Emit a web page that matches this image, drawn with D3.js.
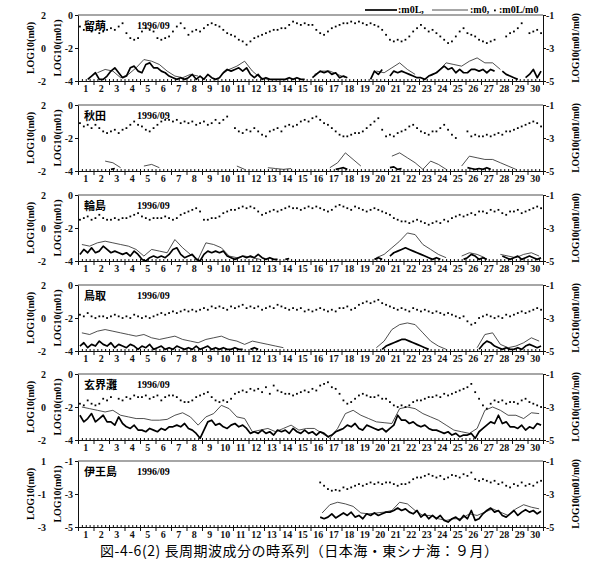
<!DOCTYPE html>
<head>
  <meta charset="utf-8">
  <script src="https://d3js.org/d3.v7.min.js"></script>
  <style>
    body { margin: 0; background: #fff; }
    svg { font-family: "Liberation Serif", serif; font-weight: bold; }
    .axis text { font-family: "Liberation Serif", serif; font-weight: bold; font-size: 10px; fill: #111; }
    .axis path, .axis line { stroke: #111; }
    .jp { font-family: "Noto Sans CJK JP", sans-serif; }
  </style>
</head>
<body>
  <svg width="600" height="573"></svg>

  <script>
    var days = d3.range(1, 31);
    var stations = ['留萌', '秋田', '輪島', '鳥取', '玄界灘', '伊王島'];
    var month = '1996/09';

    // thick line m0L, 4 values a day (inner left scale)
    var rumoiM0L = [
      -3.7,null,-3.9,-3.7, -3.5,-3.9,-3.9,-3.7,
      -3.4,-3.2,-3.5,-3.8, -3.7,-3.2,-3.1,-3.4,
      -3.5,-3.0,-2.9,-3.2, -3.2,-3.4,-3.5,-3.7,
      -3.8,-3.9,-3.8,-3.9, -3.8,-3.6,-3.9,-3.7,
      -3.9,-3.6,-3.8,-3.9, -3.8,-3.5,-3.3,-3.4,
      -3.3,-3.2,-3.4,-3.2, -3.6,-3.8,-3.6,-3.9,
      -3.8,-3.9,-3.9,-3.9, -3.9,-3.9,-3.8,-3.9,
      -3.8,-3.9,-3.9,null, -3.8,-3.6,-3.4,-3.5,
      -3.4,-3.6,-3.5,-3.8, -3.7,-3.8,null,null,
      null,null,null,-3.9, -3.4,-3.6,-3.3,null,
      -3.7,-3.4,-3.5,-3.4, -3.5,-3.6,-3.7,-3.8,
      -3.8,-3.9,-3.7,-3.6, -3.5,-3.3,-3.1,-3.3,
      -3.2,-3.5,-3.3,-3.5, -3.5,-3.3,-3.3,-3.4,
      -3.3,-3.5,-3.3,-3.4, null,-3.4,-3.6,-3.7,
      -3.8,-3.9,null,-3.8, -3.6,-3.3,-3.8,-3.4
    ];
    // thin line m0, 2 values a day
    var rumoiM0 = [
      null,null, -3.5,-3.3, -3.4,-3.8, -3.6,-3.2, -2.7,-2.8,
      -3.0,-3.4, -3.7,-3.8, -3.6,-3.7, null,null, -3.6,-3.3,
      -3.1,-2.8, -3.4,-3.8, -3.9,null, null,null, null,null,
      -3.6,-3.4, -3.4,-3.6, -3.8,null, null,null, -3.4,-3.5,
      -3.2,-2.9, -3.3,-3.6, null,-3.7, -3.4,-2.9, -3.0,-3.1,
      -2.8,-2.6, -2.9,-2.9, -3.3,null, null,null, null,null
    ];
    // dots m0L/m0, 4 values a day (right scale)
    var rumoiRatio = [
      -1.7,-1.9,-1.8,-2.0, -1.9,-2.1,-2.0,-1.9,
      -1.8,-1.9,-1.7,-1.5, -2.1,-2.4,-2.5,-2.4,
      -2.0,-1.8,-1.9,-2.0, -2.4,-2.5,-2.4,-2.3,
      -2.0,-1.7,-1.5,-1.8, -2.2,-2.0,-1.9,-2.0,
      -1.8,-1.6,-1.5,-1.6, -1.7,-1.9,-2.1,-2.2,
      -2.3,-2.5,-2.6,-2.8, -2.6,-2.4,-2.3,-2.2,
      -2.1,-2.0,-1.9,-1.9, -1.8,-1.8,-1.6,-1.4,
      -1.5,-1.6,-1.5,-1.6, -1.6,-1.9,-2.1,-2.2,
      -2.0,-1.8,-1.7,-1.6, -1.5,-1.5,-1.4,-1.5,
      -1.4,-1.5,-1.6,-1.5, -1.6,-1.7,-1.9,-2.2,
      -2.5,-2.6,-2.5,-2.6, -2.5,-2.3,-2.0,-1.8,
      -1.6,-1.8,-2.0,-1.9, -2.1,-2.3,-2.5,-2.7,
      -2.6,-2.3,-2.0,-1.8, -2.1,-2.2,-2.3,-2.5,
      -2.6,-2.7,-2.6,-2.5, null,null,-2.3,-2.1,
      -2.0,-1.8,-1.5,null, -2.1,-2.0,-1.9,-2.1
    ];

    var akitaM0L = [
      null,null,null,null, null,null,null,null,
      -3.9,-3.85,null,null, null,null,null,null,
      null,null,null,null, null,null,null,null,
      null,null,null,null, null,null,null,null,
      null,null,null,null, null,null,null,null,
      null,null,null,null, null,null,null,null,
      null,null,null,null, null,null,null,null,
      null,null,null,null, null,null,null,null,
      null,null,-3.9,-3.85, -3.8,-3.9,null,null,
      null,null,null,null, null,null,null,null,
      -3.8,-3.75,-3.9,-3.85, null,null,null,null,
      null,null,null,null, null,null,null,null,
      null,null,null,null, -3.8,-3.85,-3.9,-3.85,
      -3.9,-3.8,-3.9,null, null,null,null,null,
      null,null,null,null, null,null,null,null
    ];
    var akitaM0 = [
      null,null, null,-3.4, -3.5,-3.8, null,null, -3.7,-3.6,
      -3.8,null, null,null, null,null, null,null, null,null,
      -3.7,-3.9, null,null, -3.8,-3.85, -3.9,-3.85, null,null,
      null,null, -3.8,-3.5, -2.9,-3.3, -3.7,null, null,null,
      -3.1,-2.9, -3.2,-3.5, -3.9,-3.4, -3.6,-3.9, null,-3.7,
      -3.1,-3.2, -3.3,-3.3, -3.5,-3.7, -3.9,null, null,null
    ];
    var akitaRatio = [
      -2.1,-2.3,-2.2,-2.4, -2.2,-2.4,-2.6,-2.7,
      -2.6,-2.5,-2.7,-2.5, -2.4,-2.2,-2.0,-2.2,
      -2.3,-2.5,-2.6,-2.4, -2.2,-2.0,-1.9,-1.9,
      -2.0,-1.9,-2.1,-2.0, -2.1,-2.0,-2.2,-2.1,
      -2.0,-2.2,-2.1,-1.9, -2.1,-1.9,-1.7,null,
      -2.4,-2.6,-2.7,-2.5, -2.6,-2.4,-2.6,-2.8,
      -2.9,-2.6,-2.5,-2.4, -2.6,-2.3,-2.2,-2.3,
      -2.2,-2.0,-1.9,-2.0, -1.8,-1.7,-1.9,-2.1,
      -2.2,-2.4,-2.6,-2.8, -2.9,-2.9,-2.8,-2.7,
      -2.7,-2.6,-2.4,-2.2, -2.0,-1.8,-2.5,-2.9,
      -2.8,-2.9,-2.7,-2.6, -2.5,-2.3,-2.2,-2.4,
      -2.6,-2.7,-2.8,-2.6, -2.6,-2.4,-2.2,-2.5,
      -2.8,-3.0,null,null, -2.6,-2.9,-2.8,-2.9,
      -2.9,-2.8,-2.9,-2.8, -2.7,-2.8,-2.6,-2.6,
      -2.5,-2.4,-2.3,-2.2, -2.1,-2.0,-2.1,-2.3
    ];

    var wajimaM0L = [
      -3.6,-3.3,-3.5,-3.2, -3.5,-3.4,-3.1,-3.3,
      -3.5,-3.4,-3.5,-3.6, -3.5,-3.7,-3.4,-3.6,
      -3.9,-4.0,-3.8,-3.7, -3.8,-3.7,-3.8,-3.6,
      -3.3,-3.2,-3.6,-3.8, -3.7,-3.6,-3.9,-4.0,
      -3.6,-3.4,-3.5,-3.4, -3.5,-3.4,-3.7,-3.8,
      -3.9,-3.8,-3.7,-3.8, -3.7,-3.8,-3.6,-3.8,
      -3.9,-3.8,-3.9,-3.9, null,-3.9,-3.85,null,
      null,null,null,null, null,null,null,null,
      null,null,null,null, null,null,null,null,
      null,null,null,null, -3.9,-3.8,-3.9,null,
      -3.7,-3.5,-3.4,-3.3, -3.2,-3.3,-3.4,-3.5,
      -3.6,-3.7,-3.8,-3.9, -3.8,-3.9,null,null,
      null,null,null,-3.9, -3.8,-3.6,-3.7,-3.9,
      -3.8,-3.9,null,null, null,-3.7,-3.8,-3.9,
      -3.8,-3.7,-3.9,-3.8, -3.7,-3.8,-3.9,-3.8
    ];
    var wajimaM0 = [
      -3.0,-3.1, -2.9,-2.8, -2.9,-3.0, -3.1,-3.3, -3.7,-3.3,
      -3.4,-3.5, -2.7,-3.2, -3.6,-3.9, -2.9,-3.0, -3.2,-3.7,
      -3.8,-3.7, -3.8,-3.9, null,null, null,-3.9, null,null,
      null,null, null,null, null,null, null,null, -3.8,-3.6,
      -3.2,-2.8, -2.3,-2.4, -3.0,-3.3, -3.6,-3.8, null,-3.7,
      -3.5,-3.6, -3.8,null, -3.6,-3.7, -3.8,-3.6, -3.5,-3.7
    ];
    var wajimaRatio = [
      -2.5,-2.4,-2.3,-2.5, -2.4,-2.2,-2.4,-2.5,
      -2.5,-2.4,-2.5,-2.4, -2.4,-2.3,-2.2,-2.1,
      -2.3,-2.4,-2.5,-2.4, -2.4,-2.4,-2.3,-2.4,
      -2.5,-2.4,-2.2,-2.1, -2.0,-1.9,-1.8,-2.0,
      -2.5,-2.5,-2.4,-2.4, -2.3,-2.1,-2.0,-1.9,
      -1.9,-1.8,-1.7,-1.8, -1.7,-1.8,-2.0,-2.2,
      -2.1,-2.0,-1.9,-2.0, -1.9,-1.8,-1.7,-1.8,
      -1.8,-1.9,-1.8,-1.7, -1.8,-1.7,-1.8,-1.9,
      -2.0,-1.9,-1.7,-1.6, -1.7,-1.8,-1.9,-1.7,
      -1.8,-1.9,-2.0,-1.9, -1.8,-1.9,-2.0,-2.1,
      -2.2,-2.4,-2.5,-2.6, -2.6,-2.7,-2.6,-2.5,
      -2.6,-2.7,-2.8,-2.7, -2.6,-2.7,-2.5,-2.6,
      -2.4,-2.3,-2.2,-2.3, -2.2,-2.1,-2.2,-2.0,
      -2.0,-2.1,-1.9,-2.0, -1.9,-2.1,-2.2,-2.0,
      -2.0,-1.9,-2.1,-2.0, -1.9,-1.8,-1.7,-1.8
    ];

    var tottoriM0L = [
      -3.7,-3.5,-3.8,-3.6, -3.7,-3.4,-3.6,-3.7,
      -3.5,-3.8,-3.6,-3.7, -3.8,-3.6,-3.7,-3.9,
      -3.7,-3.8,-3.6,-3.9, -3.8,-3.7,-3.9,-3.8,
      -3.9,-3.7,-3.8,-3.9, -3.8,-3.9,-3.7,-3.9,
      -3.8,-3.7,-3.9,-3.8, -3.9,-3.8,-3.9,-3.9,
      -3.8,-3.9,-3.9,null, -3.9,-3.8,-3.9,null,
      null,-3.9,null,null, null,null,null,null,
      null,null,null,null, null,null,null,null,
      null,null,null,null, null,null,null,null,
      null,null,null,null, null,null,-3.9,-3.7,
      -3.6,-3.5,-3.4,-3.3, -3.3,-3.4,-3.5,-3.6,
      -3.7,-3.8,-3.9,null, null,null,null,null,
      null,null,null,null, null,null,null,-3.9,
      -3.6,-3.4,-3.5,-3.7, -3.8,-3.9,-3.8,-3.9,
      -3.9,-3.8,-3.9,-3.7, -3.6,-3.7,-3.8,-3.7
    ];
    var tottoriM0 = [
      -2.9,-3.0, -2.8,-2.7, -2.8,-2.9, -3.0,-3.1, -3.0,-3.2,
      -3.3,-3.2, -3.1,-3.3, -3.4,-3.5, -3.3,-3.2, -3.1,-3.3,
      -3.4,-3.6, -3.4,-3.5, -3.6,-3.7, -3.8,null, null,null,
      null,null, null,null, null,null, null,null, -3.8,-3.4,
      -2.7,-2.4, -2.3,-2.4, -2.9,-3.4, -3.7,-3.9, null,null,
      null,-3.8, -3.0,-2.9, -3.6,-3.8, -3.7,-3.5, -3.2,-3.4
    ];
    var tottoriRatio = [
      -2.8,-2.9,-2.7,-2.9, -3.0,-2.9,-2.9,-3.0,
      -2.9,-2.8,-2.9,-3.0, -2.9,-3.0,-2.8,-2.9,
      -3.0,-2.9,-3.0,-2.9, -2.8,-2.7,-2.8,-2.7,
      -2.6,-2.7,-2.6,-2.5, -2.6,-2.5,-2.6,-2.5,
      -2.4,-2.5,-2.3,-2.4, -2.3,-2.4,-2.5,-2.3,
      -2.4,-2.3,-2.2,-2.4, -2.3,-2.4,-2.3,-2.5,
      -2.4,-2.3,-2.4,-2.2, -2.3,-2.4,-2.5,-2.4,
      -2.5,-2.4,-2.6,-2.5, -2.6,-2.5,-2.4,-2.5,
      -2.6,-2.5,-2.6,-2.4, -2.4,-2.3,-2.5,-2.4,
      -2.2,-2.1,-2.0,-2.1, -2.0,-1.9,-2.1,-2.2,
      -2.3,-2.4,-2.5,-2.4, -2.5,-2.6,-2.4,-2.5,
      -2.6,-2.5,-2.6,-2.7, -2.6,-2.7,-2.8,-2.7,
      -2.8,-2.9,-3.0,-2.9, -3.2,-3.4,-3.3,-3.0,
      -2.9,-2.8,-2.9,-3.0, -2.9,-3.0,-2.8,-2.9,
      -2.8,-2.7,-2.6,-2.7, -2.6,-2.5,-2.4,-2.5
    ];

    var genkaiM0L = [
      -2.5,-2.9,-2.7,-2.4, -2.9,-2.7,-2.5,-2.9,
      -2.9,-3.1,-2.6,-3.0, -3.2,-3.3,-3.1,-3.4,
      -3.4,-3.5,-3.3,-3.4, -3.5,-3.3,-3.4,-3.2,
      -3.2,-3.1,-3.2,-3.0, -3.3,-3.4,-3.6,-3.9,
      -3.4,-2.9,-2.8,-3.1, -3.0,-3.2,-3.3,-3.1,
      -3.0,-3.2,-3.1,-3.3, -3.6,-3.5,-3.6,-3.4,
      -3.6,-3.5,-3.7,-3.4, -3.5,-3.4,-3.6,-3.3,
      -3.5,-3.6,-3.4,-3.6, -3.5,-3.7,-3.5,-3.6,
      -3.8,-3.7,-3.5,-3.4, -3.3,-3.1,-3.2,-3.0,
      -3.3,-3.4,-3.1,-3.2, -3.3,-3.4,-3.3,-3.5,
      -3.3,-3.1,-2.5,-2.8, -2.8,-3.0,-2.9,-3.1,
      -3.2,-3.1,-3.3,-3.4, -3.4,-3.5,-3.6,-3.5,
      -3.7,-3.6,-3.8,-3.7, -3.7,-3.6,-3.9,-3.5,
      -3.3,-3.1,-2.9,-3.0, -2.5,-3.0,-2.9,-3.2,
      -3.2,-3.3,-3.1,-3.4, -3.2,-3.3,-3.0,-3.1
    ];
    var genkaiM0 = [
      -2.0,-2.1, -2.2,-2.3, -2.2,-2.5, -2.6,-2.7, -2.7,-2.8,
      -2.8,-2.75, -2.5,-2.35, -2.6,-3.1, -2.6,-2.4, -1.9,-2.1,
      -2.6,-2.7, -3.5,-3.4, -3.3,-3.5, -3.3,-3.1, -3.4,-3.3,
      -3.3,-3.6, -3.9,-3.3, -2.4,-2.2, -2.5,-2.7, -2.9,-2.95,
      -3.0,-2.1, -2.0,-2.1, -2.4,-2.6, -2.8,-3.1, -3.4,-3.5,
      -3.6,-3.3, -2.2,-2.0, -2.2,-2.5, -2.5,-2.7, -2.35,-2.4
    ];
    var genkaiRatio = [
      -2.8,-2.9,-2.6,-2.8, -2.9,-2.8,-2.5,-2.6,
      -2.4,-1.8,-2.5,-2.6, -2.4,-2.5,-2.3,-2.4,
      -2.4,-2.3,-2.5,-2.4, -2.3,-2.6,-2.4,-2.3,
      -2.3,-2.4,-2.6,-2.7, -2.7,-2.6,-2.4,-2.3,
      -2.2,-2.1,-2.4,-2.6, -2.7,-2.6,-2.7,-2.5,
      -2.2,-2.1,-2.0,-2.1, -1.9,-2.0,-1.9,-2.1,
      -1.8,-2.2,-1.7,-2.0, -2.1,-2.2,-2.2,-2.3,
      -2.2,-2.1,-2.0,-2.1, -1.9,-2.0,-1.7,-1.6,
      -1.5,-1.8,-1.9,-2.2, -2.6,-2.8,-2.7,-2.5,
      -2.3,-2.2,-2.3,-2.4, -2.4,-2.3,-2.5,-2.5,
      -2.7,-2.9,-3.0,-2.9, -3.0,-2.9,-2.7,-2.6,
      -2.6,-2.5,-2.4,-2.4, -2.3,-2.4,-2.2,-2.3,
      -2.2,-2.1,-2.0,-1.9, -1.8,-1.6,-2.1,-2.5,
      -2.9,-3.1,-2.8,-2.6, -2.7,-2.6,-2.8,-2.7,
      -2.7,-2.8,-2.6,-2.5, -2.7,-2.8,-2.9,-3.0
    ];

    // 伊王島: data start on day 16
    var iouStart = 16;
    var iouM0L = [
      null,null,-4.4,-4.5, -4.4,-4.2,-4.45,-4.3,
      -4.15,-4.3,-4.1,-4.4, -4.3,-4.5,-4.2,-4.3,
      -4.15,-4.3,-4.2,-4.1, -4.1,-4.0,-3.85,-4.0,
      -3.9,-4.1,-4.2,-4.0, -4.4,-4.2,-4.5,-4.3,
      -4.5,-4.3,-4.6,-4.7, -4.5,-4.4,-4.6,-4.3,
      -4.5,-4.0,-4.6,-4.5, -4.2,-4.0,-3.85,-4.1,
      -4.0,-4.3,-4.4,-4.2, -4.0,-4.3,-4.1,-3.95,
      -4.1,-4.0,-4.2,-4.05
    ];
    var iouM0 = [
      null,-4.15, -3.65,-3.5, -3.6,-3.75, -4.15,-4.2, -4.15,-4.1,
      -4.0,-3.5, -3.6,-4.0, -4.3,-4.3, -4.5,-4.6, -4.5,-4.5,
      -4.2,-4.3, -4.1,-3.9, -4.1,-4.3, -3.9,-3.65, -3.8,-3.9
    ];
    var iouRatio = [
      null,null,-2.3,-2.5, -2.7,-2.8,-2.75,-2.8,
      -2.6,-2.7,-2.6,-2.5, -2.4,-2.5,-2.4,-2.3,
      -2.4,-2.3,-2.4,-2.3, -2.3,-2.4,-2.5,-2.4,
      -2.4,-2.3,-2.1,-2.0, -2.0,-1.9,-1.8,-1.9,
      -2.0,-1.9,-2.1,-2.0, -1.85,-1.9,-2.0,-1.8,
      -1.9,-1.7,-2.1,-2.2, -2.1,-2.2,-2.3,-2.2,
      -2.4,-2.3,-2.5,-2.6, -2.4,-2.5,-2.3,-2.5,
      -2.4,-2.5,-2.3,-2.2
    ];

    // axis ranges and tick labels
    var innerTicks = [0, -2, -4], outerTicks = [2, 0, -2], rightTicks = [-1, -3, -5];
    var innerTicksIou = [-1, -3, -5], outerTicksIou = [1, -1, -3];

    var panels = [
      {name: stations[0], m0l: rumoiM0L, m0: rumoiM0, ratio: rumoiRatio, start: 1, inner: innerTicks, outer: outerTicks},
      {name: stations[1], m0l: akitaM0L, m0: akitaM0, ratio: akitaRatio, start: 1, inner: innerTicks, outer: outerTicks},
      {name: stations[2], m0l: wajimaM0L, m0: wajimaM0, ratio: wajimaRatio, start: 1, inner: innerTicks, outer: outerTicks},
      {name: stations[3], m0l: tottoriM0L, m0: tottoriM0, ratio: tottoriRatio, start: 1, inner: innerTicks, outer: outerTicks},
      {name: stations[4], m0l: genkaiM0L, m0: genkaiM0, ratio: genkaiRatio, start: 1, inner: innerTicks, outer: outerTicks},
      {name: stations[5], m0l: iouM0L, m0: iouM0, ratio: iouRatio, start: iouStart, inner: innerTicksIou, outer: outerTicksIou}
    ];

    var tops = [15, 105, 195, 285, 374, 461];
    var ph = 66;
    var svg = d3.select('svg');

    var x = d3.scaleLinear().domain([0, 30]).range([78, 543]);
    var xDay = d3.scaleBand().domain(days).range([78, 543]);
    var fmt = function(d) { return String(d); };   // plain hyphen minus, no decimals

    // turn an array into {t, v} points; n values per day
    function points(arr, perDay, start) {
      return arr.map(function(v, i) {
        return {t: start - 1 + (i + 0.5) / perDay, v: v};
      });
    }

    panels.forEach(function(p, k) {
      var g = svg.append('g').attr('transform', 'translate(0,' + tops[k] + ')');
      var yL = d3.scaleLinear().domain(d3.extent(p.inner)).range([ph, 0]);
      var yO = d3.scaleLinear().domain(d3.extent(p.outer)).range([ph, 0]);
      var yR = d3.scaleLinear().domain(d3.extent(rightTicks)).range([ph, 0]);

      // top border (greyish in the print)
      g.append('line')
        .attr('x1', 78).attr('x2', 543).attr('y1', 0).attr('y2', 0)
        .attr('stroke', '#888').attr('stroke-width', 1.6);

      // bottom axis: day boundaries, quarter-day minor ticks, day labels
      g.append('g').attr('class', 'axis')
        .attr('transform', 'translate(0,' + ph + ')')
        .call(d3.axisBottom(x).tickValues(d3.range(0, 31)).tickSize(4).tickSizeOuter(0).tickFormat(''));
      g.append('g').attr('class', 'axis')
        .attr('transform', 'translate(0,' + ph + ')')
        .call(d3.axisTop(x).tickValues(d3.range(0, 120).map(function(i) { return i / 4; }))
          .tickSize(2).tickSizeOuter(0).tickFormat(''))
        .select('.domain').remove();
      g.append('g').attr('class', 'axis')
        .attr('transform', 'translate(0,' + ph + ')')
        .call(d3.axisBottom(xDay).tickSize(0).tickPadding(4))
        .call(function(a) { a.select('.domain').remove(); });

      // left inner axis (LOG10(m01))
      g.append('g').attr('class', 'axis')
        .attr('transform', 'translate(78,0)')
        .call(d3.axisLeft(yL).tickValues(p.inner).tickFormat(fmt)
          .tickSize(3).tickSizeOuter(0).tickPadding(2));
      // left outer labels (LOG10(m0))
      g.append('g').attr('class', 'axis')
        .attr('transform', 'translate(46,0)')
        .call(d3.axisLeft(yO).tickValues(p.outer).tickFormat(fmt).tickSize(0).tickPadding(0))
        .call(function(a) { a.select('.domain').remove(); });
      // right axis (LOG10(m01/m0))
      g.append('g').attr('class', 'axis')
        .attr('transform', 'translate(543,0)')
        .call(d3.axisRight(yR).tickValues(rightTicks).tickFormat(fmt)
          .tickSize(3).tickSizeOuter(0).tickPadding(0));

      // axis titles
      [[30, 'LOG10(m0)'], [57, 'LOG10(m01)'], [576, 'LOG10(m01/m0)']].forEach(function(t) {
        g.append('text')
          .attr('transform', 'translate(' + t[0] + ',' + ph / 2 + ')rotate(-90)')
          .attr('text-anchor', 'middle')
          .attr('dy', '0.35em')
          .style('font-size', t[1].length > 10 ? '9.5px' : '10px')
          .text(t[1]);
      });

      // station and month
      g.append('text').attr('class', 'jp')
        .attr('x', 84).attr('y', 15)
        .style('font-size', '11px')
        .text(p.name);
      g.append('text')
        .attr('x', 137).attr('y', 14)
        .style('font-size', '10px')
        .text(month);

      var line = d3.line()
        .defined(function(d) { return d.v != null; })
        .x(function(d) { return x(d.t); })
        .y(function(d) { return yL(d.v); });

      g.append('path')
        .datum(points(p.m0, 2, p.start))
        .attr('fill', 'none').attr('stroke', '#222').attr('stroke-width', 0.8)
        .attr('d', line);
      g.append('path')
        .datum(points(p.m0l, 4, p.start))
        .attr('fill', 'none').attr('stroke', '#000').attr('stroke-width', 1.7)
        .attr('stroke-linejoin', 'round')
        .attr('d', line);

      g.selectAll('rect.dot')
        .data(points(p.ratio, 4, p.start).filter(function(d) { return d.v != null; }))
        .enter().append('rect')
        .attr('class', 'dot')
        .attr('x', function(d) { return x(d.t) - 0.9; })
        .attr('y', function(d) { return yR(d.v) - 0.9; })
        .attr('width', 1.8).attr('height', 1.8)
        .attr('fill', '#000');
    });

    // legend
    var lg = svg.append('g').style('font-size', '10px');
    lg.append('line').attr('x1', 365).attr('x2', 397).attr('y1', 10).attr('y2', 10)
      .attr('stroke', '#000').attr('stroke-width', 1.7);
    lg.append('text').attr('x', 398).attr('y', 13).text(':m0L,');
    lg.append('line').attr('x1', 432).attr('x2', 468).attr('y1', 10).attr('y2', 10)
      .attr('stroke', '#222').attr('stroke-width', 0.8);
    lg.append('text').attr('x', 470).attr('y', 13).text(':m0,');
    lg.append('rect').attr('x', 494).attr('y', 9.5).attr('width', 1.8).attr('height', 1.8);
    lg.append('text').attr('x', 499).attr('y', 13).text(':m0L/m0');

    // caption
    svg.append('text').attr('class', 'jp')
      .attr('x', 100).attr('y', 556)
      .attr('textLength', 398).attr('lengthAdjust', 'spacing')
      .style('font-size', '14px').style('font-weight', 'normal')
      .text('図-4-6(2) 長周期波成分の時系列（日本海・東シナ海：９月）');
  </script>
</body>
